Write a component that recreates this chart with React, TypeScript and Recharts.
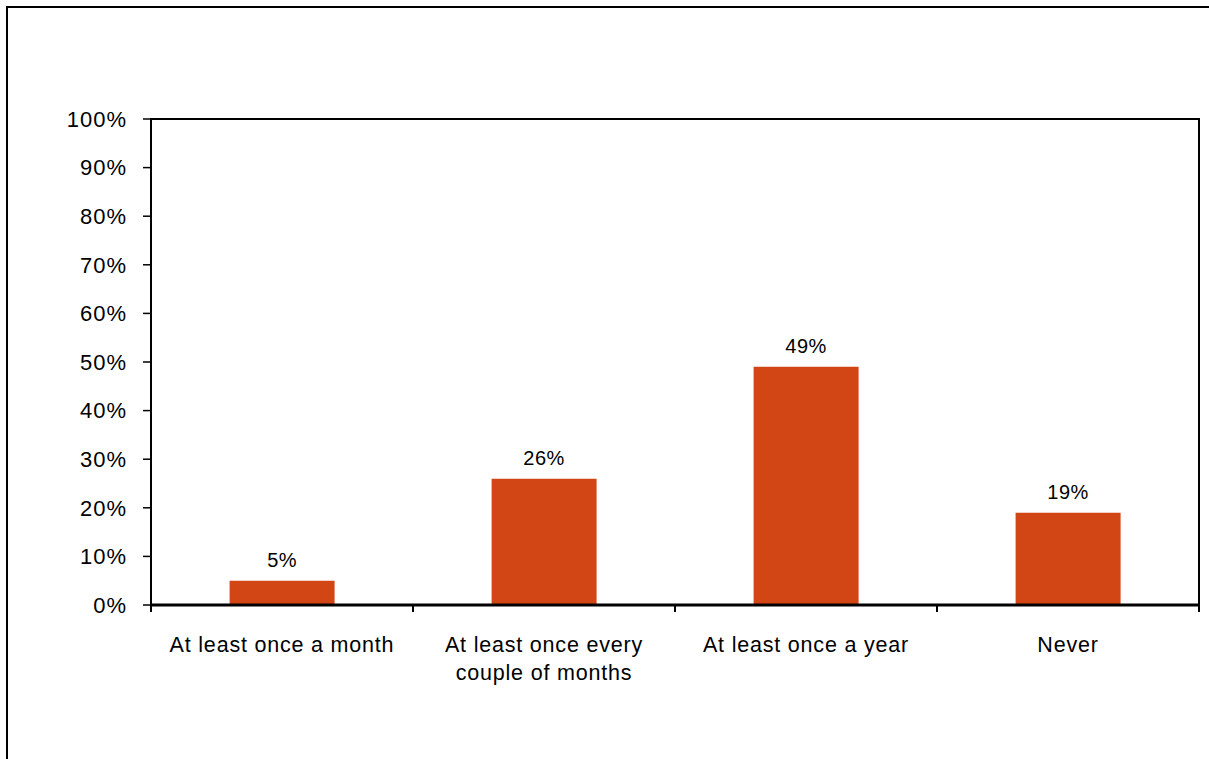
import {
  Bar,
  BarChart,
  LabelList,
  ReferenceArea,
  XAxis,
  YAxis,
} from "recharts";

const categories = [
  "At least once a month",
  "At least once every\ncouple of months",
  "At least once a year",
  "Never",
];
const shares = [5, 26, 49, 19];
const yTicks = [0, 10, 20, 30, 40, 50, 60, 70, 80, 90, 100];

const data = categories.map((name, i) => ({ name, value: shares[i] }));

const FONT = "'Liberation Sans', Arial, sans-serif";
const BAR_COLOR = "#D24616";

function CategoryTick({ x, y, payload, index }: any) {
  const half = payload?.offset ?? 0;
  const lines = String(payload.value).split("\n");
  return (
    <g>
      <line x1={x - half} y1={y} x2={x - half} y2={y + 7} stroke="#000" strokeWidth={2} />
      {index === categories.length - 1 && (
        <line x1={x + half} y1={y} x2={x + half} y2={y + 7} stroke="#000" strokeWidth={2} />
      )}
      <text
        x={x}
        y={y + 47}
        textAnchor="middle"
        fontSize={21.5}
        letterSpacing={0.8}
        fontFamily={FONT}
        fill="#000"
      >
        {lines.map((line, i) => (
          <tspan key={i} x={x} dy={i === 0 ? 0 : 28}>
            {line}
          </tspan>
        ))}
      </text>
    </g>
  );
}

function App() {
  return (
    <div
      style={{
        position: "absolute",
        left: 0,
        top: 0,
        width: 1209,
        height: 759,
        overflow: "hidden",
        background: "#fff",
      }}
    >
      <div
        style={{
          position: "absolute",
          left: 6,
          top: 6,
          width: 1400,
          height: 1000,
          border: "2px solid #000",
        }}
      />
      <div style={{ position: "absolute", left: 0, top: 0 }}>
        <BarChart
          width={1209}
          height={759}
          data={data}
          margin={{ top: 119, right: 10, bottom: 0, left: 71 }}
          barCategoryGap="30%"
        >
          <XAxis
            dataKey="name"
            height={154}
            tickLine={false}
            tickSize={0}
            tickMargin={0}
            interval={0}
            axisLine={{ stroke: "#000", strokeWidth: 3 }}
            tick={<CategoryTick />}
          />
          <YAxis
            width={80}
            domain={[0, 100]}
            ticks={yTicks}
            interval={0}
            tickSize={8}
            tickMargin={16}
            tickFormatter={(v: number) => `${v}%`}
            axisLine={{ stroke: "#000", strokeWidth: 2 }}
            tickLine={{ stroke: "#000", strokeWidth: 1.5 }}
            tick={{ fill: "#000", fontSize: 22, fontFamily: FONT, letterSpacing: 1 }}
          />
          <ReferenceArea
            y1={0}
            y2={100}
            fill="none"
            stroke="#000"
            strokeWidth={2}
            ifOverflow="visible"
          />
          <Bar dataKey="value" fill={BAR_COLOR} isAnimationActive={false}>
            <LabelList
              dataKey="value"
              position="top"
              offset={14}
              formatter={(v: any) => `${v}%`}
              fill="#000"
              fontSize={20}
              letterSpacing={0.5}
              fontFamily={FONT}
            />
          </Bar>
        </BarChart>
      </div>
    </div>
  );
}

export default App;
